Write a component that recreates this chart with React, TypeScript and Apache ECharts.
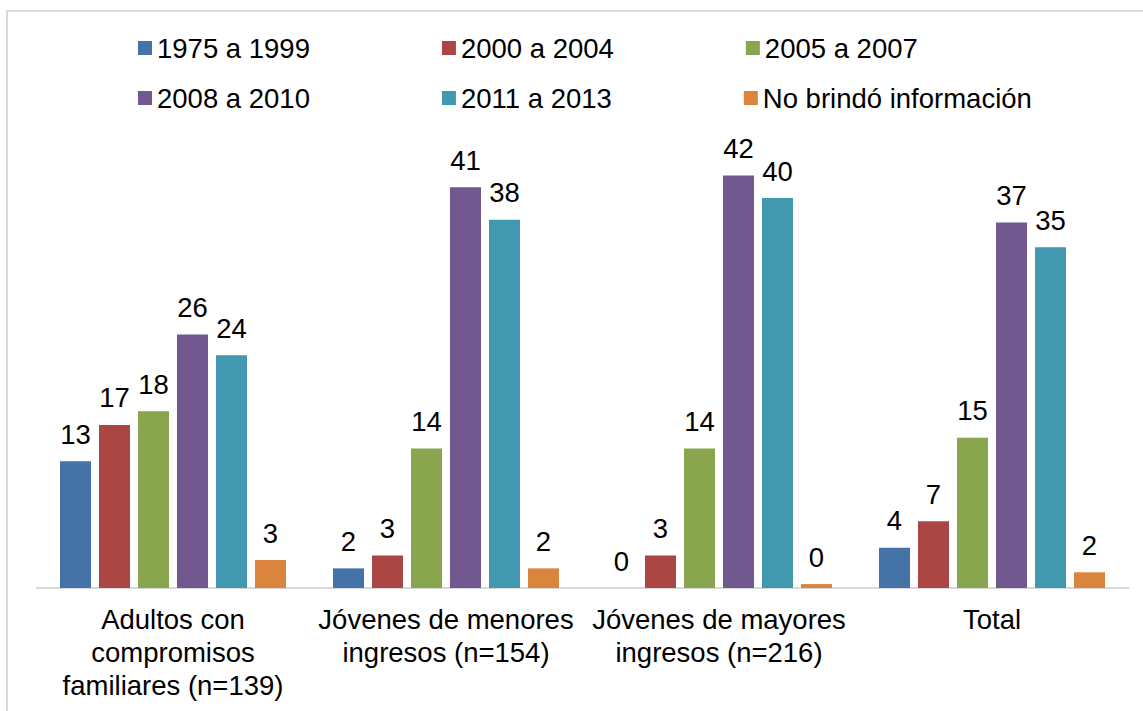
import React, { useEffect, useRef } from "react";
import * as echarts from "echarts";

const categories = [
  "Adultos con\ncompromisos\nfamiliares (n=139)",
  "Jóvenes de menores\ningresos (n=154)",
  "Jóvenes de mayores\ningresos (n=216)",
  "Total",
];
const seriesNames = [
  "1975 a 1999",
  "2000 a 2004",
  "2005 a 2007",
  "2008 a 2010",
  "2011 a 2013",
  "No brindó información",
];
const s1975 = [12.9, 2.0, 0, 4.1];
const s2000 = [16.6, 3.3, 3.3, 6.8];
const s2005 = [18.0, 14.2, 14.2, 15.3];
const s2008 = [25.8, 40.8, 42.0, 37.2];
const s2011 = [23.7, 37.5, 39.7, 34.7];
const sNoInfo = [2.85, 2.0, 0.4, 1.6];
const seriesData = [s1975, s2000, s2005, s2008, s2011, sNoInfo];
const colors = ["#4572a7", "#aa4643", "#89a54e", "#71588f", "#4198af", "#db843d"];

const FONT = "'Liberation Sans', Arial, sans-serif";
const FS = 27.5;

export default function App() {
  const ref = useRef<HTMLDivElement>(null);
  useEffect(() => {
    if (!ref.current) return;
    const chart = echarts.init(ref.current, null, { renderer: "svg" });
    const legendCommon = {
      icon: "rect",
      itemWidth: 14,
      itemHeight: 14,
      itemGap: 132,
      left: 133,
      padding: 5,
      orient: "horizontal",
      textStyle: { fontFamily: FONT, fontSize: FS, color: "#000", lineHeight: 28 },
      selectedMode: false,
    };
    chart.setOption({
      animation: false,
      color: colors,
      textStyle: { fontFamily: FONT },
      graphic: [
        {
          type: "rect",
          shape: { x: 7, y: 11, width: 1160, height: 720 },
          style: { fill: "none", stroke: "#d9d9d9", lineWidth: 2 },
          silent: true,
        },
      ],
      legend: [
        { ...legendCommon, top: 29, data: seriesNames.slice(0, 3) },
        { ...legendCommon, top: 79, data: seriesNames.slice(3, 6) },
      ],
      grid: { left: 36.5, right: 14.5, top: 146, bottom: 123, containLabel: false },
      xAxis: {
        type: "category",
        data: categories,
        axisLine: { show: true, lineStyle: { color: "#d9d9d9", width: 2 } },
        axisTick: { show: false },
        axisLabel: {
          interval: 0,
          margin: 15,
          color: "#000",
          fontFamily: FONT,
          fontSize: FS,
          lineHeight: 33,
        },
      },
      yAxis: {
        type: "value",
        min: 0,
        max: 45,
        show: false,
        splitLine: { show: false },
      },
      series: seriesNames.map((name, i) => ({
        name,
        type: "bar",
        data: seriesData[i],
        barWidth: 31,
        barGap: "25.8%",
        itemStyle: { color: colors[i] },
        label: {
          show: true,
          position: "top",
          distance: 13,
          color: "#000",
          fontFamily: FONT,
          fontSize: FS,
          lineHeight: 28,
          formatter: (p: any) => String(Math.round(p.value)),
        },
      })),
    });
    return () => chart.dispose();
  }, []);
  return (
    <div
      ref={ref}
      style={{ position: "fixed", left: 0, top: 0, width: 1143, height: 711, background: "#fff" }}
    />
  );
}
